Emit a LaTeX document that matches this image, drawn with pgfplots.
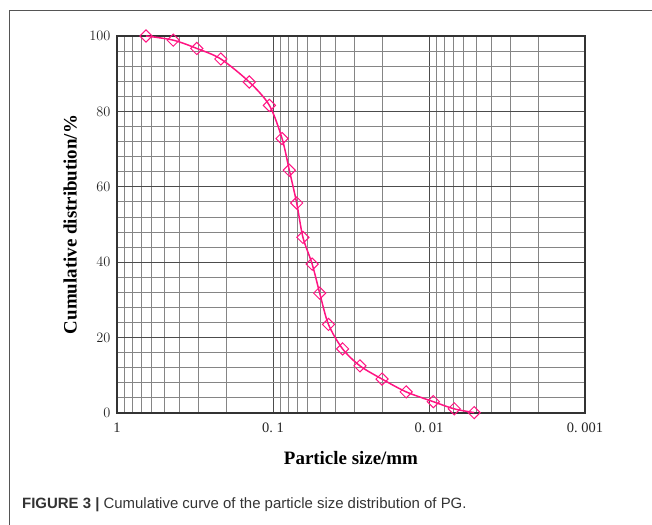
\documentclass[border=0pt]{standalone}
\usepackage{pgfplots}
\pgfplotsset{compat=1.18}
\usepackage{fontspec}
\setmainfont{Liberation Serif}
\newfontfamily\capfont{Liberation Sans}
\definecolor{curve}{RGB}{255,20,130}
\definecolor{framegray}{RGB}{85,85,85}
\begin{document}
\begin{tikzpicture}
\useasboundingbox (0,0) rectangle (652bp,525bp);
\draw[framegray, line width=1bp] (9bp,0) -- (9bp,514bp) -- (652bp,514bp);
\begin{axis}[
  at={(117bp,112bp)}, anchor=south west,
  scale only axis, width=468bp, height=377bp,
  xmode=log, x dir=reverse,
  xmin=0.001, xmax=1, ymin=0, ymax=100,
  xtick={1,0.1,0.01,0.001},
  xticklabels={1,{0.\ 1},{0.\ 01},{0.\ 001}},
  minor xtick={0.2,0.3,0.4,0.5,0.6,0.7,0.8,0.9,0.02,0.03,0.04,0.05,0.06,0.07,0.08,0.09,0.002,0.003,0.004,0.005,0.006,0.007,0.008,0.009},
  ytick={0,20,40,60,80,100},
  minor ytick={4,8,12,16,24,28,32,36,44,48,52,56,64,68,72,76,84,88,92,96},
  grid=both,
  major grid style={draw=black!70, line width=0.9bp},
  minor grid style={draw=black!48, line width=0.9bp},
  major tick length=0pt, minor tick length=0pt,
  axis line style={draw=black!80, line width=1.4bp},
  tick label style={font=\fontsize{14.5}{16}\selectfont, text=black!85},
  xticklabel style={yshift=-6bp},
  yticklabel style={xshift=-3bp},
  xlabel={\textbf{Particle size/mm}},
  ylabel={\textbf{Cumulative distribution/\%}},
  label style={font=\fontsize{19}{22}\selectfont},
  xlabel style={at={(axis description cs:0.5,-0.119)}, anchor=center},
  ylabel style={at={(axis description cs:-0.1,0.5)}, anchor=center, rotate=0},
  clip=false,
]
\addplot[color=curve, line width=1.5bp, smooth, mark=square,
  mark size=4.3bp, mark options={rotate=45, line width=1bp, fill=none, solid}]
  table[row sep=\\]{
x y\\
0.652 100\\
0.436 98.9\\
0.308 96.7\\
0.216 93.9\\
0.142 87.8\\
0.1055 81.6\\
0.0875 72.8\\
0.0786 64.4\\
0.0705 55.7\\
0.0643 46.6\\
0.0561 39.5\\
0.0502 31.8\\
0.0441 23.5\\
0.0358 17.0\\
0.0277 12.5\\
0.0200 9.0\\
0.0140 5.6\\
0.00938 3.0\\
0.00689 1.1\\
0.00513 0.1\\
};
\end{axis}
\node[anchor=west, inner sep=0pt, text=black!80] at (22bp,20bp)
  {\capfont\fontsize{15}{18}\selectfont\textbf{FIGURE 3 |} Cumulative curve of the particle size distribution of PG.};
\end{tikzpicture}
\end{document}
